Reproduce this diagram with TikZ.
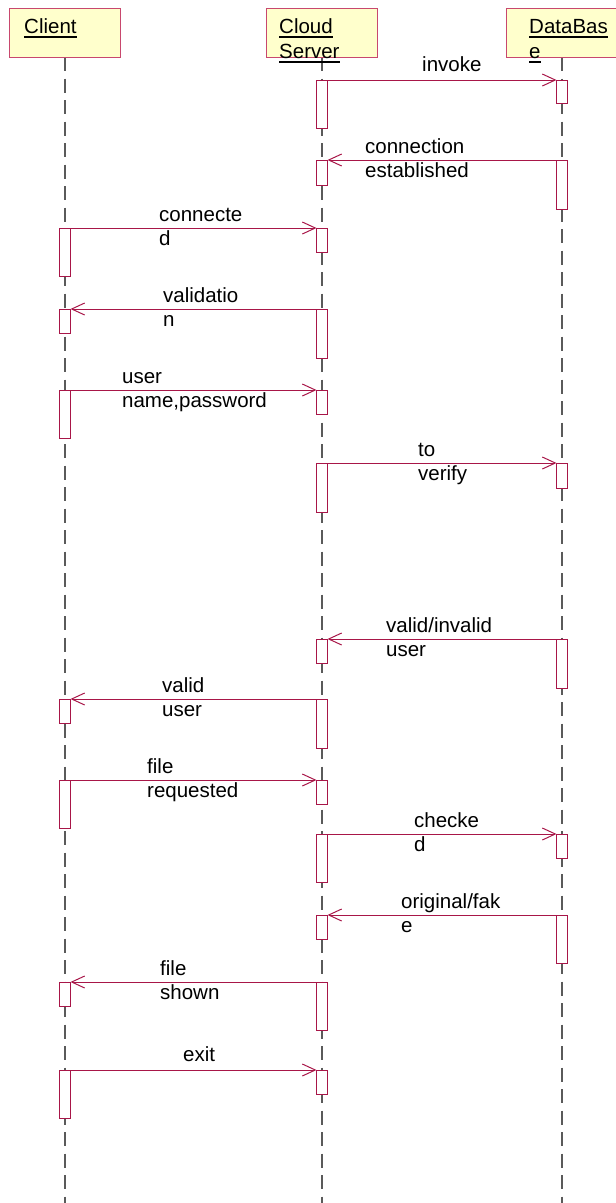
\documentclass[tikz,border=0pt]{standalone}
\usepackage{fontspec}
\setmainfont{Liberation Sans}
\usetikzlibrary{arrows.meta}

\definecolor{crim}{RGB}{168,22,72}
\definecolor{boxedge}{RGB}{200,72,110}
\definecolor{boxfill}{RGB}{255,255,204}
\definecolor{lifegray}{RGB}{90,90,90}

% activation bar: name, lifeline x, top y, bottom y
\newcommand\actbar[4]{\node[actbox, minimum height=#4-#3, anchor=north] (#1) at (#2,#3) {};}
% heavy underline for object names
\newcommand\headul[1]{\setbox0\hbox{#1}\copy0\llap{\rule[-4.5pt]{\wd0}{1.8pt}}}

\begin{document}
\begin{tikzpicture}[x=1pt, y=-1pt,
  every node/.style={font=\fontsize{20.5}{24}\selectfont},
  headbox/.style={draw=boxedge, fill=boxfill, line width=1pt, minimum width=111pt,
    minimum height=49pt, inner sep=0pt, outer sep=0pt, anchor=north west},
  headtext/.style={anchor=base west, inner sep=0pt, align=left},
  lifeline/.style={draw=lifegray, line width=1.2pt, dash pattern=on 14pt off 7.5pt},
  actbox/.style={draw=crim, fill=white, line width=1pt, minimum width=11pt,
    inner sep=0pt, outer sep=0pt},
  msg/.style={draw=crim, line width=1pt, -{Straight Barb[length=13pt,width=12pt]}},
  msgtext/.style={anchor=base west, inner sep=0pt, align=left, text=black}]

\useasboundingbox (0,0) rectangle (616,1203);

% lifelines
\coordinate (cTop) at (65,57);   \coordinate (cEnd) at (65,1203);
\coordinate (sTop) at (322,57);  \coordinate (sEnd) at (322,1203);
\coordinate (dTop) at (562,57);  \coordinate (dEnd) at (562,1203);
\draw[lifeline] (cTop) -- (cEnd);
\draw[lifeline] (sTop) -- (sEnd);
\draw[lifeline] (dTop) -- (dEnd);

% object heads (base anchor = baseline of the last line)
\node[headbox] (client) at (9,8) {};
\node[headbox] (server) at (266,8) {};
\node[headbox] (db) at (506,8) {};
\node[headtext] (clientT) at (24,33) {\headul{Client}};
\node[headtext] (serverT) at (279,58) {\headul{Cloud}\\[1pt]\headul{Server}};
\node[headtext] (dbT) at (529,58) {\headul{DataBas}\\[1pt]\headul{e}};

% activation bars
\actbar{s1}{322}{80}{128}   \actbar{d1}{562}{80}{103}
\actbar{d2}{562}{160}{209}  \actbar{s2}{322}{160}{185}
\actbar{c3}{65}{228}{276}   \actbar{s3}{322}{228}{252}
\actbar{s4}{322}{309}{358}  \actbar{c4}{65}{309}{333}
\actbar{c5}{65}{390}{438}   \actbar{s5}{322}{390}{414}
\actbar{s6}{322}{463}{512}  \actbar{d6}{562}{463}{488}
\actbar{d7}{562}{639}{688}  \actbar{s7}{322}{639}{663}
\actbar{s8}{322}{699}{748}  \actbar{c8}{65}{699}{723}
\actbar{c9}{65}{780}{828}   \actbar{s9}{322}{780}{804}
\actbar{s10}{322}{834}{882} \actbar{d10}{562}{834}{858}
\actbar{d11}{562}{915}{963} \actbar{s11}{322}{915}{939}
\actbar{s12}{322}{982}{1030} \actbar{c12}{65}{982}{1006}
\actbar{c13}{65}{1070}{1118} \actbar{s13}{322}{1070}{1094}

% messages
\draw[msg] (s1.north east) -- (d1.north west);
\draw[msg] (d2.north west) -- (s2.north east);
\draw[msg] (c3.north east) -- (s3.north west);
\draw[msg] (s4.north west) -- (c4.north east);
\draw[msg] (c5.north east) -- (s5.north west);
\draw[msg] (s6.north east) -- (d6.north west);
\draw[msg] (d7.north west) -- (s7.north east);
\draw[msg] (s8.north west) -- (c8.north east);
\draw[msg] (c9.north east) -- (s9.north west);
\draw[msg] (s10.north east) -- (d10.north west);
\draw[msg] (d11.north west) -- (s11.north east);
\draw[msg] (s12.north west) -- (c12.north east);
\draw[msg] (c13.north east) -- (s13.north west);

% message labels (base anchor = baseline of the last line)
\node[msgtext] (m1) at (422,71) {invoke};
\node[msgtext] (m2) at (365,177) {connection\\established};
\node[msgtext] (m3) at (159,245) {connecte\\d};
\node[msgtext] (m4) at (163,326) {validatio\\n};
\node[msgtext] (m5) at (122,407) {user\\name,password};
\node[msgtext] (m6) at (418,480) {to\\verify};
\node[msgtext] (m7) at (386,656) {valid/invalid\\user};
\node[msgtext] (m8) at (162,716) {valid\\user};
\node[msgtext] (m9) at (147,797) {file\\requested};
\node[msgtext] (m10) at (414,851) {checke\\d};
\node[msgtext] (m11) at (401,932) {original/fak\\e};
\node[msgtext] (m12) at (160,999) {file\\shown};
\node[msgtext] (m13) at (183,1061) {exit};

\end{tikzpicture}
\end{document}
